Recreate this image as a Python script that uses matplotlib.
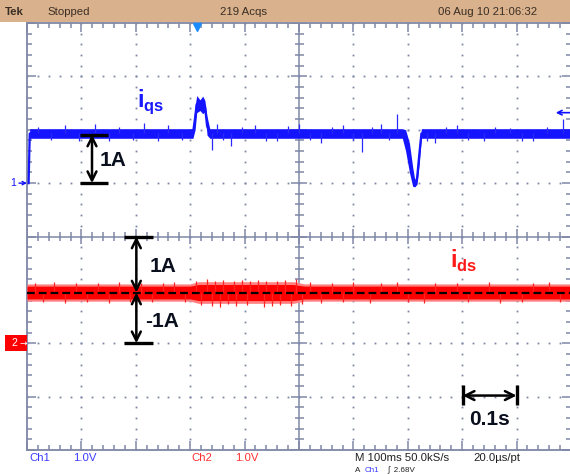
import matplotlib
matplotlib.use("Agg")
import matplotlib.pyplot as plt
from matplotlib.patches import Rectangle
import numpy as np

plt.rcParams['font.family'] = ['Liberation Sans', 'DejaVu Sans']
plt.rcParams['mathtext.fontset'] = 'custom'
plt.rcParams['mathtext.bf'] = 'Liberation Sans:bold'
plt.rcParams['mathtext.rm'] = 'Liberation Sans'

# scope screen in divisions: x 0..10 (100 ms/div), y -4..4 (1 V/div)
# ch1 (i_qs) trace: envelope of the noisy band
blue_t = [0.03, 0.05, 3.05, 3.09, 3.12, 3.18, 3.23, 3.27, 3.31, 3.36, 6.9, 6.96, 7.03, 7.09, 7.13, 7.17, 7.21, 7.25, 10.0]
blue_hi = [1.0, 2.02, 2.02, 2.45, 2.64, 2.56, 2.63, 2.55, 2.25, 2.02, 2.02, 2.0, 1.75, 1.3, 1.05, 1.2, 1.7, 2.02, 2.02]
blue_lo = [1.0, 1.84, 1.84, 2.0, 2.32, 2.36, 2.3, 2.34, 1.9, 1.84, 1.84, 1.6, 1.2, 0.94, 0.93, 0.98, 1.35, 1.84, 1.84]
blue_base = 1.93
blue_spike_t = [0.2, 0.45, 0.7, 0.95, 1.25, 1.5, 1.7, 1.95, 2.15, 2.4, 2.6, 2.85, 3.4, 3.49, 3.6,
                3.75, 3.95, 4.2, 4.4, 4.6, 4.8, 5.0, 5.2, 5.4, 5.6, 5.8, 6.0, 6.16, 6.35, 6.5, 6.65,
                6.8, 7.35, 7.5, 7.7, 7.9, 8.1, 8.4, 8.6, 8.88, 9.1, 9.3, 9.55, 9.85]
blue_spike_v = [2.06, 1.8, 2.08, 1.79, 2.1, 1.78, 2.05, 1.8, 2.12, 1.78, 2.08, 1.8, 1.62, 2.1, 1.8,
                1.7, 2.06, 2.08, 1.79, 1.78, 2.07, 2.1, 1.8, 1.76, 2.05, 2.08, 1.8, 1.59, 2.06, 2.1, 1.8,
                2.3, 1.78, 1.75, 2.06, 2.08, 1.8, 1.78, 2.06, 2.04, 1.79, 1.78, 2.06, 2.21]

# ch2 (i_ds) trace
red_t = [0.0, 3.0, 3.15, 4.9, 5.1, 10.0]
red_v = [-1.05, -1.05, -1.05, -1.05, -1.05, -1.05]
red_hw = [0.12, 0.12, 0.15, 0.15, 0.12, 0.12]
red_spike_t = [0.15, 0.3, 0.5, 0.7, 0.9, 1.1, 1.3, 1.5, 1.7, 1.9, 2.1, 2.3, 2.5, 2.7, 2.9,
               3.1, 3.2, 3.3, 3.4, 3.45, 3.55, 3.6, 3.7, 3.8, 3.85, 3.95, 4.05, 4.1, 4.25, 4.35, 4.4,
               4.5, 4.6, 4.65, 4.75, 4.85, 4.95, 5.05, 5.2, 5.4, 5.6, 5.8, 6.0, 6.3, 6.5, 6.8, 7.0,
               7.3, 7.5, 7.9, 8.1, 8.5, 8.7, 9.1, 9.3, 9.6, 9.8]
red_spike_v = [-0.88, -1.22, -0.86, -1.24, -0.87, -1.22, -0.88, -1.24, -0.86, -1.22, -0.88, -1.23, -0.87, -0.86, -1.22,
               -0.84, -1.28, -0.8, -1.3, -0.83, -1.33, -0.82, -1.27, -0.84, -1.3, -0.81, -1.29, -0.83, -0.81, -1.32, -0.84,
               -1.3, -0.83, -1.28, -0.82, -1.31, -0.8, -1.27, -0.86, -1.24, -0.87, -1.22, -0.86, -1.24, -0.87, -0.86, -1.23,
               -1.24, -0.88, -0.87, -1.22, -0.86, -1.24, -1.23, -0.87, -0.86, -1.22]

ch1_ground = 1.0
ch2_ground = -2.0
trig_level = 2.32
trig_pos = 3.125

W, H = 570, 474
fig = plt.figure(figsize=(W / 100, H / 100), dpi=100)
fig.patch.set_facecolor('white')
ax = fig.add_axes([27 / W, 24 / H, 544 / W, 427 / H])
ax.set_xlim(0, 10)
ax.set_ylim(-4, 4)
ax.axis('off')

def fx(px):
    return px / W

def fy(py):
    return 1 - py / H

grid = '#7f87a6'
dxp = 1 / 54.4  # div per pixel
dyp = 1 / 53.4

# graticule
xs = np.round(np.arange(0, 10.01, 0.2), 2)
ys = np.round(np.arange(-4, 4.01, 0.2), 2)
for xm in [1, 2, 3, 4, 6, 7, 8, 9]:
    ax.plot([xm] * len(ys), ys, ls='none', marker='s', ms=1.3, mew=0, color=grid, zorder=1)
for ym in [-3, -2, -1, 1, 2, 3]:
    ax.plot(xs, [ym] * len(xs), ls='none', marker='s', ms=1.3, mew=0, color=grid, zorder=1)
ax.axvline(5, color=grid, lw=1.1, zorder=1)
ax.axhline(0, color=grid, lw=1.1, zorder=1)
for x in xs:
    major = abs(x - round(x)) < 1e-6
    lc = (8 if major else 4.5) * dyp
    lb = (9 if major else 5) * dyp
    ax.vlines(x, -lc, lc, color=grid, lw=1.1, zorder=1)
    ax.vlines(x, -4, -4 + lb, color=grid, lw=1.1, zorder=1, clip_on=False)
    ax.vlines(x, 4 - lb, 4, color=grid, lw=1.1, zorder=1, clip_on=False)
for y in ys:
    major = abs(y - round(y)) < 1e-6
    lc = (8 if major else 4.5) * dxp
    lb = (9 if major else 5) * dxp
    ax.hlines(y, 5 - lc, 5 + lc, color=grid, lw=1.1, zorder=1)
    ax.hlines(y, 0, lb, color=grid, lw=1.1, zorder=1, clip_on=False)
    ax.hlines(y, 10 - lb, 10, color=grid, lw=1.1, zorder=1, clip_on=False)
ax.plot([0, 0], [-4, 4], color=grid, lw=1.3, clip_on=False, zorder=1)
ax.plot([0, 10], [-4, -4], color=grid, lw=1.3, clip_on=False, zorder=1)
ax.plot([0, 10], [4, 4], color=grid, lw=1.3, clip_on=False, zorder=1)

# ch1 trace
ax.fill_between(blue_t, blue_lo, blue_hi, color='#1414ff', lw=0, zorder=3)
ax.plot(blue_t, [(a + b) / 2 for a, b in zip(blue_lo, blue_hi)], color='#1414ff', lw=1.6, zorder=3)
ax.vlines(blue_spike_t, blue_base, blue_spike_v, color='#2a2aff', lw=0.9, zorder=3)

# ch2 trace
rv = np.array(red_v)
rh = np.array(red_hw)
ax.fill_between(red_t, rv - 1.35 * rh, rv + 1.35 * rh, color='#ff8080', lw=0, zorder=3)
ax.fill_between(red_t, rv - rh, rv + rh, color='#ff0000', lw=0, zorder=3)
ax.vlines(red_spike_t, red_v[0], red_spike_v, color='#ff2020', lw=0.9, zorder=3)
ax.axhline(red_v[0], color='black', lw=1.6, dashes=(3.5, 1.8), zorder=4)

# annotations
ink = '#0a0f1e'
aprops = dict(arrowstyle='<->', color='black', lw=1.8, mutation_scale=16, shrinkA=0, shrinkB=0)
ax.annotate('', xy=(1.195, blue_base - 0.02), xytext=(1.195, ch1_ground), arrowprops=aprops, zorder=5)
ax.hlines([blue_base - 0.02, ch1_ground], 0.97, 1.48, color='black', lw=2.4, zorder=5)
ax.text(1.59, 1.42, '1A', fontsize=15, fontweight='bold', color=ink, ha='center', va='center', zorder=5)

ax.annotate('', xy=(2.01, 0), xytext=(2.01, red_v[0]), arrowprops=aprops, zorder=5)
ax.annotate('', xy=(2.01, red_v[0]), xytext=(2.01, ch2_ground), arrowprops=aprops, zorder=5)
ax.hlines([0, ch2_ground], 1.78, 2.31, color='black', lw=2.4, zorder=5)
ax.text(2.5, -0.56, '1A', fontsize=15, fontweight='bold', color=ink, ha='center', va='center', zorder=5)
ax.text(2.49, -1.6, '-1A', fontsize=15, fontweight='bold', color=ink, ha='center', va='center', zorder=5)

ax.annotate('', xy=(8.01, -2.98), xytext=(9.0, -2.98), arrowprops=aprops, zorder=5)
ax.vlines([8.01, 9.0], -3.16, -2.79, color='black', lw=2.4, zorder=5)
ax.text(8.5, -3.43, '0.1s', fontsize=15, fontweight='bold', color=ink, ha='center', va='center', zorder=5)

ax.text(2.02, 2.43, r'$\mathbf{i}_{\mathbf{qs}}$', fontsize=17, color='#1a1aff', ha='left', va='baseline', zorder=5)
ax.text(7.78, -0.58, r'$\mathbf{i}_{\mathbf{ds}}$', fontsize=17, color='#ff1a1a', ha='left', va='baseline', zorder=5)

# trigger markers
ax.plot([trig_pos], [4 - 4 * dyp], marker='v', ms=6, color='#1a8cff', clip_on=False, zorder=6)
ax.annotate('', xy=(9.72, trig_level), xytext=(10.0, trig_level),
            arrowprops=dict(arrowstyle='->', color='#1010ff', lw=1.2, mutation_scale=8, shrinkA=0, shrinkB=0),
            annotation_clip=False)

# channel ground markers
ax.annotate('', xy=(0, ch1_ground), xytext=(-8 * dxp, ch1_ground),
            arrowprops=dict(arrowstyle='->', color='#1010ff', lw=1.0, mutation_scale=6, shrinkA=0, shrinkB=0),
            annotation_clip=False)
ax.text(-14 * dxp, ch1_ground, '1', fontsize=7.5, color='#1010ff', ha='center', va='center', clip_on=False)
fig.patches.append(Rectangle((fx(5), fy(351)), fx(22), 16 / H, transform=fig.transFigure,
                             facecolor='#ff0000', edgecolor='none', zorder=5))
fig.text(fx(14), fy(343), '2', fontsize=7.5, color='white', ha='center', va='center', zorder=6)
fig.text(fx(23), fy(343), '\u2192', fontsize=6.5, color='white', ha='center', va='center', zorder=6,
         family='DejaVu Sans')

# top status bar
fig.patches.append(Rectangle((0, fy(22)), 1, 22 / H, transform=fig.transFigure,
                             facecolor='#d9b18c', edgecolor='none', zorder=0))
top = '#3a2e24'
fig.text(fx(5), fy(12), 'Tek', fontsize=8.2, fontweight='bold', color=top, va='center')
fig.text(fx(47), fy(12), 'Stopped', fontsize=8.2, color=top, va='center')
fig.text(fx(220), fy(12), '219 Acqs', fontsize=8.2, color=top, va='center')
fig.text(fx(438), fy(12), '06 Aug 10 21:06:32', fontsize=8.2, color=top, va='center')

# bottom readouts
fig.text(fx(29), fy(458), 'Ch1', fontsize=8.2, color='#3a3aff', va='center')
fig.text(fx(73), fy(458), '1.0V', fontsize=8.2, color='#3a3aff', va='center')
fig.text(fx(191), fy(458), 'Ch2', fontsize=8.2, color='#ff3030', va='center')
fig.text(fx(235), fy(458), '1.0V', fontsize=8.2, color='#ff3030', va='center')
fig.text(fx(355), fy(458), 'M 100ms 50.0kS/s', fontsize=8.2, color='#202020', va='center')
fig.text(fx(473), fy(458), '20.0\u00b5s/pt', fontsize=8.2, color='#202020', va='center')
fig.text(fx(355), fy(474), 'A', fontsize=5.8, color='#202020', va='bottom')
fig.text(fx(365), fy(474), 'Ch1', fontsize=5.8, color='#3a3aff', va='bottom')
fig.text(fx(387), fy(474), '\u222b  2.68V', fontsize=5.8, color='#202020', va='bottom')

fig.savefig('out.png', dpi=100)
